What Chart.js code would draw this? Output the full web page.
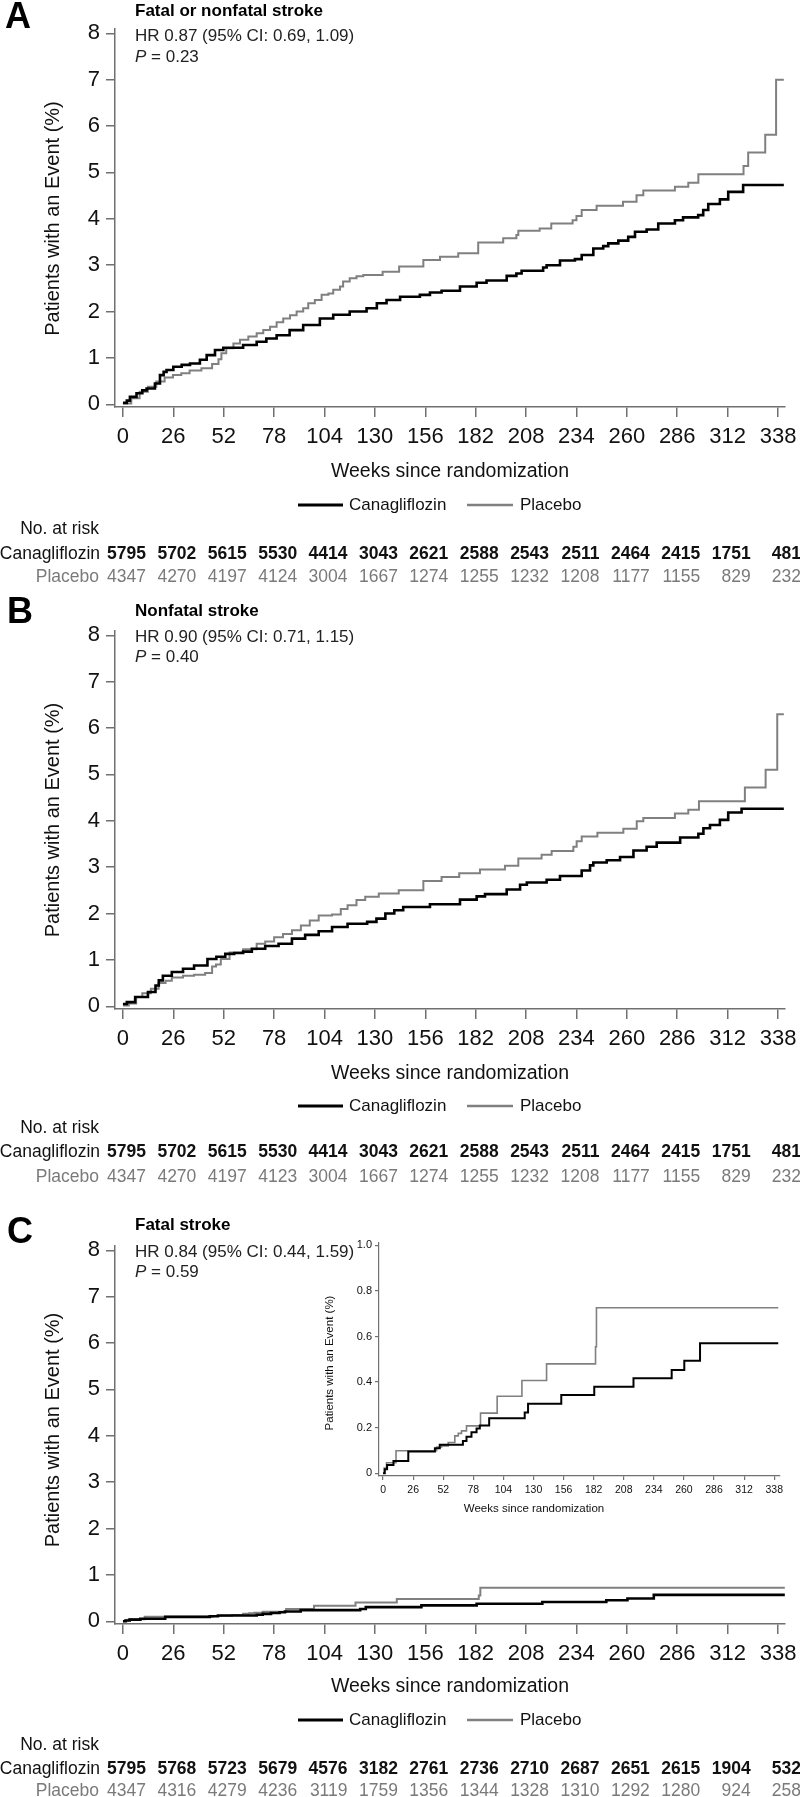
<!DOCTYPE html>
<html>
<head>
<meta charset="utf-8">
<title>Stroke outcomes – canagliflozin vs placebo</title>
<script src="https://cdn.jsdelivr.net/npm/chart.js"></script>
<style>
  body { margin: 0; background: #fff; }
  .page { position: relative; width: 800px; height: 1797px; overflow: hidden; }
  canvas { position: absolute; left: 0; }
</style>
</head>
<body>
<div class="page">
  <canvas id="chartA" width="800" height="590" style="top:0px"></canvas>
  <canvas id="chartB" width="800" height="615" style="top:590px"></canvas>
  <canvas id="chartC" width="800" height="592" style="top:1205px"></canvas>
  <canvas id="inset" width="485" height="285" style="top:1235px; left:315px"></canvas>
</div>

<script>
  var FONT = "'Liberation Sans', Arial, Helvetica, sans-serif";
  var AXIS = '#707070';
  var GRAY = '#808080';

  var weekTicks = [0, 26, 52, 78, 104, 130, 156, 182, 208, 234, 260, 286, 312, 338];
  var pctTicks = [0, 1, 2, 3, 4, 5, 6, 7, 8];
  var insetPctTicks = [0, 0.2, 0.4, 0.6, 0.8, 1.0];

  // A: fatal or nonfatal stroke (step points: week, cumulative %)
  var aCanaWeeks = [0, 2, 3.6, 7, 10, 12.2, 16.5, 19.1, 21, 22.5, 26, 30.3, 34.6, 39.7, 43.2, 47.5, 51.8, 62, 69, 74, 79.3, 86, 93, 101.6, 108.5, 117, 125.7, 131, 136, 143, 153.2, 158.4, 164.4, 173.9, 182.5, 187.6, 198, 203, 205.7, 216.8, 218.6, 225.5, 233.2, 236.7, 242.7, 247.8, 250.4, 255.6, 260.7, 264.2, 270.2, 276.2, 284.8, 289, 296.8, 299.4, 302, 308, 312.3, 320, 341];
  var aCanaPct = [0.03, 0.08, 0.16, 0.24, 0.3, 0.34, 0.45, 0.63, 0.7, 0.74, 0.81, 0.85, 0.88, 0.96, 1.06, 1.17, 1.22, 1.28, 1.35, 1.42, 1.49, 1.6, 1.71, 1.85, 1.93, 2.0, 2.07, 2.18, 2.25, 2.32, 2.36, 2.41, 2.45, 2.54, 2.62, 2.67, 2.77, 2.82, 2.88, 2.95, 3.0, 3.1, 3.13, 3.22, 3.36, 3.41, 3.47, 3.53, 3.61, 3.72, 3.77, 3.9, 3.97, 4.03, 4.08, 4.19, 4.32, 4.42, 4.58, 4.73, 4.73];
  var aPlacWeeks = [0, 4.3, 8.6, 12.9, 17.2, 21.5, 25.8, 30.1, 34.4, 40.5, 46, 49.3, 50.8, 53.3, 57, 60.4, 64.7, 69, 72.4, 75.9, 79.3, 82.7, 86.2, 89.6, 93, 95.6, 99, 102.5, 106, 108.5, 112, 113.6, 117, 120.5, 124, 134, 142.5, 155, 163.6, 173, 183.3, 196.2, 203, 204, 215, 221, 232, 234, 236.7, 244.4, 258, 265, 268.5, 284.8, 291.7, 296.9, 320.2, 322.6, 331.4, 337, 341];
  var aPlacPct = [0.02, 0.13, 0.27, 0.38, 0.49, 0.58, 0.63, 0.67, 0.73, 0.78, 0.87, 0.97, 1.1, 1.21, 1.31, 1.39, 1.46, 1.53, 1.6, 1.67, 1.77, 1.85, 1.92, 2.0, 2.07, 2.18, 2.25, 2.36, 2.39, 2.47, 2.54, 2.65, 2.72, 2.76, 2.79, 2.86, 2.97, 3.11, 3.18, 3.26, 3.49, 3.58, 3.65, 3.74, 3.79, 3.9, 3.97, 4.06, 4.19, 4.28, 4.37, 4.51, 4.61, 4.69, 4.78, 4.96, 5.14, 5.43, 5.81, 7.0, 7.0];
  var aRiskCana = [5795, 5702, 5615, 5530, 4414, 3043, 2621, 2588, 2543, 2511, 2464, 2415, 1751, 481];
  var aRiskPlac = [4347, 4270, 4197, 4124, 3004, 1667, 1274, 1255, 1232, 1208, 1177, 1155, 829, 232];

  // B: nonfatal stroke
  var bCanaWeeks = [0, 2, 6.3, 12.9, 16.8, 18.5, 20.6, 25.2, 31, 36.7, 43.6, 48.2, 52.8, 57.4, 62, 66.5, 73.4, 80.3, 87.2, 94, 101, 107.9, 115.9, 126, 130.8, 135.4, 140, 144.6, 158.4, 173.9, 182.5, 186.8, 198, 204.9, 208.4, 218.6, 225.5, 236.7, 241, 242.7, 249.6, 256.5, 263.4, 270.2, 275.4, 287.5, 296.9, 299.5, 302.9, 308, 312.3, 319.2, 341];
  var bCanaPct = [0.05, 0.09, 0.2, 0.31, 0.45, 0.56, 0.66, 0.74, 0.81, 0.88, 1.02, 1.07, 1.13, 1.15, 1.18, 1.24, 1.3, 1.35, 1.46, 1.54, 1.62, 1.71, 1.78, 1.82, 1.89, 2.0, 2.07, 2.14, 2.2, 2.3, 2.37, 2.42, 2.52, 2.62, 2.67, 2.73, 2.81, 2.93, 3.04, 3.1, 3.15, 3.22, 3.36, 3.44, 3.53, 3.64, 3.72, 3.84, 3.91, 4.02, 4.18, 4.26, 4.26];
  var bPlacWeeks = [0, 3, 6.8, 10, 14.4, 18.4, 22, 25.2, 31, 36.7, 42.4, 46, 48, 50.5, 55, 62, 69, 73.4, 78, 82.6, 87.2, 91.8, 96.4, 101, 107.9, 112.4, 115.9, 120.5, 125, 132, 142.3, 155, 164.4, 173.5, 184.2, 197.1, 204, 216, 221.2, 232.4, 234.1, 236.7, 244.8, 258.2, 265.1, 268.5, 284.8, 291.7, 297.2, 320.9, 331.6, 337.6, 341];
  var bPlacPct = [0.02, 0.06, 0.2, 0.28, 0.38, 0.5, 0.55, 0.62, 0.66, 0.68, 0.72, 0.86, 0.9, 1.02, 1.16, 1.23, 1.35, 1.4, 1.49, 1.56, 1.64, 1.74, 1.85, 1.96, 1.98, 2.1, 2.18, 2.29, 2.36, 2.43, 2.5, 2.7, 2.79, 2.87, 2.95, 3.03, 3.19, 3.27, 3.35, 3.44, 3.56, 3.66, 3.74, 3.83, 3.99, 4.06, 4.16, 4.24, 4.42, 4.72, 5.1, 6.3, 6.3];
  var bRiskCana = [5795, 5702, 5615, 5530, 4414, 3043, 2621, 2588, 2543, 2511, 2464, 2415, 1751, 481];
  var bRiskPlac = [4347, 4270, 4197, 4123, 3004, 1667, 1274, 1255, 1232, 1208, 1177, 1155, 829, 232];

  // C: fatal stroke (same curves feed the inset)
  var cCanaWeeks = [0, 1.5, 3.5, 9, 21.8, 44.8, 49, 69, 72.1, 76.4, 80.8, 83.6, 91.7, 122.4, 125.3, 154, 182.5, 216.4, 249.4, 260.3, 273.9, 341.5];
  var cCanaPct = [0, 0.018, 0.036, 0.054, 0.095, 0.11, 0.125, 0.142, 0.16, 0.18, 0.196, 0.21, 0.241, 0.266, 0.305, 0.343, 0.38, 0.417, 0.453, 0.493, 0.57, 0.57];
  var cPlacWeeks = [0, 1, 3, 11.2, 46.3, 50.6, 56.3, 62, 65, 67.8, 72.1, 84.2, 98.6, 120, 141.3, 183.6, 184.4, 341.5];
  var cPlacPct = [0, 0.023, 0.046, 0.099, 0.115, 0.12, 0.135, 0.164, 0.175, 0.186, 0.208, 0.264, 0.338, 0.407, 0.48, 0.555, 0.726, 0.726];
  var cRiskCana = [5795, 5768, 5723, 5679, 4576, 3182, 2761, 2736, 2710, 2687, 2651, 2615, 1904, 532];
  var cRiskPlac = [4347, 4316, 4279, 4236, 3119, 1759, 1356, 1344, 1328, 1310, 1292, 1280, 924, 258];

  function steps(weeks, pct) {
    return weeks.map(function (w, i) { return { x: w, y: pct[i] }; });
  }

  // one page-level layout record per panel (global page pixels)
  var panels = [
    { id: 'chartA', letter: 'A', top: 0, height: 590, plotTop: 29, plotBottom: 407,
      letterX: 5, letterY: 28, titleY: 15.5, hrY: 40.5, pY: 62, yTitleY: 218.5, xTitleY: 472, legendY: 505, riskY: [529, 554, 577],
      title: 'Fatal or nonfatal stroke', hr: 'HR 0.87 (95% CI: 0.69, 1.09)', p: '0.23',
      cana: steps(aCanaWeeks, aCanaPct), plac: steps(aPlacWeeks, aPlacPct), riskCana: aRiskCana, riskPlac: aRiskPlac },
    { id: 'chartB', letter: 'B', top: 590, height: 615, plotTop: 631, plotBottom: 1009,
      letterX: 7, letterY: 623, titleY: 615.5, hrY: 641.5, pY: 661.5, yTitleY: 820, xTitleY: 1074, legendY: 1106, riskY: [1128, 1152, 1177],
      title: 'Nonfatal stroke', hr: 'HR 0.90 (95% CI: 0.71, 1.15)', p: '0.40',
      cana: steps(bCanaWeeks, bCanaPct), plac: steps(bPlacWeeks, bPlacPct), riskCana: bRiskCana, riskPlac: bRiskPlac },
    { id: 'chartC', letter: 'C', top: 1205, height: 592, plotTop: 1246, plotBottom: 1624,
      letterX: 7, letterY: 1243, titleY: 1230, hrY: 1257, pY: 1276.5, yTitleY: 1430, xTitleY: 1687, legendY: 1720, riskY: [1745, 1769, 1791],
      title: 'Fatal stroke', hr: 'HR 0.84 (95% CI: 0.44, 1.59)', p: '0.59',
      cana: steps(cCanaWeeks, cCanaPct), plac: steps(cPlacWeeks, cPlacPct), riskCana: cRiskCana, riskPlac: cRiskPlac }
  ];

  function fixedTicks(list) {
    return function (s) { s.ticks = list.map(function (v) { return { value: v }; }); };
  }

  function panelText(p) {
    return {
      id: 'panelText' + p.letter,
      afterDraw: function (chart) {
        var ctx = chart.ctx, o = p.top, xs = chart.scales.x, area = chart.chartArea;
        ctx.save();
        ctx.textBaseline = 'alphabetic';
        ctx.textAlign = 'left';
        ctx.fillStyle = '#000';
        ctx.font = 'bold 36px ' + FONT;
        ctx.fillText(p.letter, p.letterX, p.letterY - o);
        ctx.font = 'bold 17px ' + FONT;
        ctx.fillText(p.title, 135, p.titleY - o);

        ctx.fillStyle = '#222';
        ctx.font = '17px ' + FONT;
        ctx.fillText(p.hr, 135, p.hrY - o);
        ctx.font = 'italic 17px ' + FONT;
        ctx.fillText('P', 135, p.pY - o);
        var pw = ctx.measureText('P').width;
        ctx.font = '17px ' + FONT;
        ctx.fillText(' = ' + p.p, 135 + pw, p.pY - o);

        // axis titles
        ctx.fillStyle = '#111';
        ctx.save();
        ctx.translate(53, p.yTitleY - o);
        ctx.rotate(-Math.PI / 2);
        ctx.textAlign = 'center';
        ctx.textBaseline = 'middle';
        ctx.font = '20px ' + FONT;
        ctx.fillText('Patients with an Event (%)', 0, 0);
        ctx.restore();

        ctx.textAlign = 'center';
        ctx.textBaseline = 'middle';
        ctx.font = '19.5px ' + FONT;
        ctx.fillText('Weeks since randomization', (area.left + area.right) / 2, p.xTitleY - o);

        // legend
        var ly = p.legendY - o;
        ctx.lineWidth = 3;
        ctx.strokeStyle = '#000';
        ctx.beginPath(); ctx.moveTo(298, ly); ctx.lineTo(343, ly); ctx.stroke();
        ctx.lineWidth = 2.5;
        ctx.strokeStyle = GRAY;
        ctx.beginPath(); ctx.moveTo(467, ly); ctx.lineTo(513, ly); ctx.stroke();
        ctx.textAlign = 'left';
        ctx.font = '17px ' + FONT;
        ctx.fillText('Canagliflozin', 349, ly);
        ctx.fillText('Placebo', 520, ly);

        // number at risk
        ctx.textAlign = 'right';
        ctx.font = '17.5px ' + FONT;
        ctx.fillStyle = '#111';
        ctx.fillText('No. at risk', 99, p.riskY[0] - o);
        ctx.fillText('Canagliflozin', 100, p.riskY[1] - o);
        ctx.font = 'bold 17.5px ' + FONT;
        p.riskCana.forEach(function (n, i) {
          ctx.fillText(String(n), xs.getPixelForValue(weekTicks[i]) + 23, p.riskY[1] - o);
        });
        ctx.fillStyle = '#7a7a7a';
        ctx.font = '17.5px ' + FONT;
        ctx.fillText('Placebo', 99, p.riskY[2] - o);
        p.riskPlac.forEach(function (n, i) {
          ctx.fillText(String(n), xs.getPixelForValue(weekTicks[i]) + 23, p.riskY[2] - o);
        });
        ctx.restore();
      }
    };
  }

  function mainChart(p) {
    var el = document.getElementById(p.id);
    return new Chart(el, {
      type: 'line',
      data: {
        datasets: [
          { label: 'Canagliflozin', data: p.cana, borderColor: '#000', borderWidth: 2.6, stepped: true, pointRadius: 0, fill: false },
          { label: 'Placebo', data: p.plac, borderColor: GRAY, borderWidth: 2, stepped: true, pointRadius: 0, fill: false }
        ]
      },
      options: {
        responsive: false,
        animation: false,
        events: [],
        layout: { padding: { top: p.plotTop - p.top, right: 15, left: 0, bottom: 0 } },
        plugins: { legend: { display: false }, tooltip: { enabled: false } },
        scales: {
          x: {
            type: 'linear', min: -4.1, max: 341.6,
            afterBuildTicks: fixedTicks(weekTicks),
            afterFit: function (s) { s.height = p.top + p.height - p.plotBottom; s.paddingLeft = 0; s.paddingRight = 0; },
            grid: { drawOnChartArea: false, drawTicks: true, tickLength: 10, color: AXIS, lineWidth: 1.5 },
            border: { display: true, color: AXIS, width: 1.5 },
            ticks: { autoSkip: false, maxRotation: 0, padding: 7, color: '#111', font: { family: FONT, size: 22 } }
          },
          y: {
            type: 'linear', min: -0.058, max: 8.093,
            afterBuildTicks: fixedTicks(pctTicks),
            afterFit: function (s) { s.width = 115; s.paddingTop = 0; s.paddingBottom = 0; },
            grid: { drawOnChartArea: false, drawTicks: true, tickLength: 9, color: AXIS, lineWidth: 1.5 },
            border: { display: true, color: AXIS, width: 1.5 },
            ticks: { padding: 6, color: '#111', font: { family: FONT, size: 22 } }
          }
        }
      },
      plugins: [panelText(p)]
    });
  }

  panels.forEach(mainChart);

  // inset of panel C, 0 to 1 % scale
  var insetText = {
    id: 'insetText',
    afterDraw: function (chart) {
      var ctx = chart.ctx;
      ctx.save();
      ctx.fillStyle = '#111';
      ctx.textAlign = 'center';
      ctx.textBaseline = 'middle';
      ctx.font = '11.5px ' + FONT;
      ctx.fillText('Weeks since randomization', 219, 274);
      ctx.translate(15, 128);
      ctx.rotate(-Math.PI / 2);
      ctx.fillText('Patients with an Event (%)', 0, 0);
      ctx.restore();
    }
  };

  new Chart(document.getElementById('inset'), {
    type: 'line',
    data: {
      datasets: [
        { label: 'Canagliflozin', data: steps(cCanaWeeks, cCanaPct), borderColor: '#000', borderWidth: 2, stepped: true, pointRadius: 0, fill: false },
        { label: 'Placebo', data: steps(cPlacWeeks, cPlacPct), borderColor: GRAY, borderWidth: 1.6, stepped: true, pointRadius: 0, fill: false }
      ]
    },
    options: {
      responsive: false,
      animation: false,
      events: [],
      layout: { padding: { top: 8, right: 20, left: 0, bottom: 0 } },
      plugins: { legend: { display: false }, tooltip: { enabled: false } },
      scales: {
        x: {
          type: 'linear', min: -3.5, max: 343,
          afterBuildTicks: fixedTicks(weekTicks),
          afterFit: function (s) { s.height = 44; s.paddingLeft = 0; s.paddingRight = 0; },
          grid: { drawOnChartArea: false, tickLength: 4, color: AXIS, lineWidth: 1.2 },
          border: { display: true, color: AXIS, width: 1.2 },
          ticks: { autoSkip: false, maxRotation: 0, padding: 4, color: '#111', font: { family: FONT, size: 10.5 } }
        },
        y: {
          type: 'linear', min: -0.012, max: 1.01,
          afterBuildTicks: fixedTicks(insetPctTicks),
          afterFit: function (s) { s.width = 64; s.paddingTop = 0; s.paddingBottom = 0; },
          grid: { drawOnChartArea: false, tickLength: 4, color: AXIS, lineWidth: 1.2 },
          border: { display: true, color: AXIS, width: 1.2 },
          ticks: {
            padding: 3, color: '#111', font: { family: FONT, size: 11 },
            callback: function (v) { return v === 0 ? '0' : v.toFixed(1); }
          }
        }
      }
    },
    plugins: [insetText]
  });
</script>
</body>
</html>
